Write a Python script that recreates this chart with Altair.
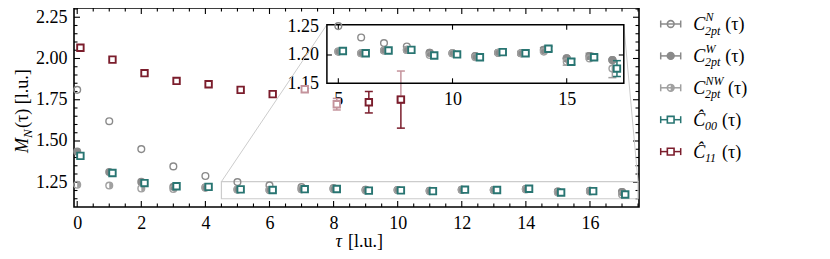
import altair as alt
import pandas as pd

# ---------------- data ----------------
tau = list(range(18))
c2pt_N = [1.810, 1.620, 1.451, 1.346, 1.288, 1.251, 1.231, 1.221, 1.215,
          1.204, 1.203, 1.198, 1.204, 1.203, 1.209, 1.194, 1.198, 1.191]
c2pt_W = [1.436, 1.312, 1.252, 1.222, 1.219, 1.206, 1.203, 1.208, 1.209,
          1.204, 1.203, 1.198, 1.204, 1.203, 1.209, 1.194, 1.198, 1.191]
c2pt_W_err = [0] * 14 + [0.004, 0, 0.005, 0]
c2pt_NW = [1.235, 1.230, 1.212, 1.209, 1.216, 1.206, 1.203, 1.208, 1.209,
           1.200, 1.203, 1.196, 1.204, 1.203, 1.206, 1.188, 1.194, 1.176]
c2pt_NW_err = [0] * 15 + [0.006, 0, 0.016]
c00 = [1.410, 1.306, 1.245, 1.226, 1.222, 1.207, 1.203, 1.208, 1.209,
       1.199, 1.201, 1.196, 1.205, 1.203, 1.211, 1.188, 1.196, 1.176]
c00_err = [0] * 14 + [0.004, 0.005, 0.004, 0.014]

c11_tau = [0, 1, 2, 3, 4, 5, 6, 9, 10]
c11 = [2.065, 1.993, 1.911, 1.864, 1.844, 1.810, 1.784, 1.735, 1.751]
c11_err_lo = [0, 0, 0, 0, 0, 0, 0, 0.065, 0.173]
c11_err_hi = [0, 0, 0, 0, 0, 0, 0, 0.065, 0]
c11_pale_tau = [7, 8, 10]
c11_pale = [1.814, 1.723, 1.751]
c11_pale_err_lo = [0, 0.035, 0]
c11_pale_err_hi = [0, 0.035, 0.173]

x_major = [0, 2, 4, 6, 8, 10, 12, 14, 16]
y_major = [1.25, 1.50, 1.75, 2.00, 2.25]
inset_x_ticks = [5, 10, 15]
inset_y_ticks = [1.15, 1.20, 1.25]

legend_main = ["C", "C", "C", "Ĉ", "Ĉ"]
legend_sup = ["N", "W", "NW", "", ""]
legend_sub = ["2pt", "2pt", "2pt", "00", "11"]

# ---------------- layout / style ----------------
W, H = 565, 199
X_DOM = [-0.10, 17.53]
Y_DOM = [1.10, 2.306]
IX_DOM = [4.5, 17.5]
IY_DOM = [1.15, 1.2535]
IL, IR, IT, IB = 252.9, 549.8, 16.7, 75.3   # inset box in plot pixels
FONT = "Liberation Serif"
GRAY = "#8a8a8a"
GRAY_NW = "#a0a0a0"
TEAL = "#287572"
RED = "#7b1d2c"
PALE = "#c4939c"
LIGHT = "#cccccc"
HALF = "M0,-1A1,1,0,0,1,0,1Z"
SHIFT_MAIN = 0.1
SHIFT_INSET = 0.2


def axis(values, fmt, orient, pad, offset=0):
    return alt.Axis(values=values, format=fmt, orient=orient, offset=offset,
                    ticks=False, tickSize=0, domain=False, grid=False,
                    labelFont=FONT, labelFontSize=18, labelColor="black",
                    labelPadding=pad, labelFlush=False, labelOverlap=False,
                    title=None)


main_xaxis = axis(x_major, "d", "bottom", 7)
main_yaxis = axis(y_major, ".2f", "left", 7)
inset_xaxis = axis(inset_x_ticks, "d", "bottom", 7.5, offset=-(H - IB))
inset_yaxis = axis(inset_y_ticks, ".2f", "left", 8.5, offset=-IL)


def MX(f="x"):
    return alt.X(f"{f}:Q", scale=alt.Scale(domain=X_DOM, nice=False, zero=False),
                 axis=main_xaxis, title=None)


def MY(f="y"):
    return alt.Y(f"{f}:Q", scale=alt.Scale(domain=Y_DOM, nice=False, zero=False),
                 axis=main_yaxis, title=None)


def IXe(f="x"):
    return alt.X(f"{f}:Q", scale=alt.Scale(domain=IX_DOM, range=[IL, IR], nice=False, zero=False),
                 axis=inset_xaxis, title=None)


def IYe(f="y"):
    return alt.Y(f"{f}:Q", scale=alt.Scale(domain=IY_DOM, range=[IB, IT], nice=False, zero=False),
                 axis=inset_yaxis, title=None)


def pts(t, v, shift=0.0, lo=None, hi=None):
    lo = lo if lo is not None else [0] * len(t)
    hi = hi if hi is not None else lo
    df = pd.DataFrame({"x": [a + shift for a in t], "y": v, "elo": lo, "ehi": hi})
    df["lo"] = df["y"] - df["elo"]
    df["hi"] = df["y"] + df["ehi"]
    return df


def errorbars(df, color, xe, ye):
    d = df[(df.elo > 0) | (df.ehi > 0)]
    if len(d) == 0:
        return []
    rule = alt.Chart(d).mark_rule(color=color, strokeWidth=1.5).encode(
        x=xe("x"), y=ye("lo"), y2=alt.Y2("hi:Q"))
    caps = pd.concat([
        d[d.elo > 0][["x", "lo"]].rename(columns={"lo": "c"}),
        d[d.ehi > 0][["x", "hi"]].rename(columns={"hi": "c"})])
    cap = alt.Chart(caps).mark_point(shape="M-1,0L1,0", filled=False, size=64,
                                     strokeWidth=1.5, color=color, opacity=1).encode(
        x=xe("x"), y=ye("c"))
    return [rule, cap]


def open_circles(df, color, xe, ye):
    return alt.Chart(df).mark_point(shape="circle", filled=False, size=45, strokeWidth=1.4,
                                    color=color, opacity=1).encode(x=xe("x"), y=ye("y"))


def filled_circles(df, color, xe, ye):
    return alt.Chart(df).mark_point(shape="circle", filled=True, size=45, fill=color,
                                    stroke=color, strokeWidth=1.4, opacity=1).encode(x=xe("x"), y=ye("y"))


def half_circles(df, color, xe, ye):
    return [open_circles(df, color, xe, ye),
            alt.Chart(df).mark_point(shape=HALF, filled=True, size=45, fill=color,
                                     strokeWidth=0, opacity=1).encode(x=xe("x"), y=ye("y"))]


def squares(df, color, xe, ye):
    return alt.Chart(df).mark_point(shape="square", filled=True, fill="white", stroke=color,
                                    strokeWidth=1.9, size=42, opacity=1).encode(x=xe("x"), y=ye("y"))


def tick_rules(xvals, yvals, xe, ye, left, right, top, bottom, ln):
    out = []
    if xvals:
        dx = pd.DataFrame({"x": xvals})
        out.append(alt.Chart(dx).mark_rule(color="black", strokeWidth=1.1).encode(
            x=xe("x"), y=alt.value(bottom), y2=alt.value(bottom - ln)))
        out.append(alt.Chart(dx).mark_rule(color="black", strokeWidth=1.1).encode(
            x=xe("x"), y=alt.value(top), y2=alt.value(top + ln)))
    if yvals:
        dy = pd.DataFrame({"y": yvals})
        out.append(alt.Chart(dy).mark_rule(color="black", strokeWidth=1.1).encode(
            y=ye("y"), x=alt.value(left), x2=alt.value(left + ln)))
        out.append(alt.Chart(dy).mark_rule(color="black", strokeWidth=1.1).encode(
            y=ye("y"), x=alt.value(right), x2=alt.value(right - ln)))
    return out


def px_to_main(px, py):
    x = X_DOM[0] + px / W * (X_DOM[1] - X_DOM[0])
    y = Y_DOM[1] - py / H * (Y_DOM[1] - Y_DOM[0])
    return x, y


def txt(s, x, y, size=18, italic=False, angle=0, dx=0, dy=0):
    return alt.Chart(pd.DataFrame({"t": [s]})).mark_text(
        font=FONT, fontSize=size, fontStyle="italic" if italic else "normal",
        align="left", baseline="alphabetic", angle=angle, dx=dx, dy=dy,
        color="black").encode(text="t:N", x=alt.value(x), y=alt.value(y))


# ---------------- main panel ----------------
x_minor = [k * 0.5 for k in range(0, 36) if k % 4]
y_minor = [round(k * 0.05, 2) for k in range(23, 47) if k % 5]

main_layers = []
main_layers += tick_rules(x_major, y_major, MX, MY, 0, W, 0, H, 6)
main_layers += tick_rules(x_minor, y_minor, MX, MY, 0, W, 0, H, 3.5)

zoom_box = pd.DataFrame({"x": [IX_DOM[0]], "x2": [IX_DOM[1]], "y": [IY_DOM[0]], "y2": [IY_DOM[1]]})
main_layers.append(alt.Chart(zoom_box).mark_rect(filled=False, color=LIGHT, strokeWidth=1.2).encode(
    x=MX("x"), x2=alt.X2("x2:Q"), y=MY("y"), y2=alt.Y2("y2:Q")))

cl = px_to_main(IL, IT)
cr = px_to_main(IR, IT)
conn = pd.DataFrame({"x": [IX_DOM[0], IX_DOM[1]], "y": [IY_DOM[1], IY_DOM[1]],
                     "x2": [cl[0], cr[0]], "y2": [cl[1], cr[1]]})
main_layers.append(alt.Chart(conn).mark_rule(color=LIGHT, strokeWidth=1).encode(
    x=MX("x"), y=MY("y"), x2=alt.X2("x2:Q"), y2=alt.Y2("y2:Q")))

dN = pts(tau, c2pt_N)
dW = pts(tau, c2pt_W, lo=c2pt_W_err)
dNW = pts(tau, c2pt_NW, lo=c2pt_NW_err)
d00m = pts(tau, c00, SHIFT_MAIN, lo=c00_err)
d11 = pts(c11_tau, c11, SHIFT_MAIN, lo=c11_err_lo, hi=c11_err_hi)
d11p = pts(c11_pale_tau, c11_pale, SHIFT_MAIN, lo=c11_pale_err_lo, hi=c11_pale_err_hi)

main_layers.append(open_circles(dN, GRAY, MX, MY))
main_layers.append(filled_circles(dW, GRAY, MX, MY))
main_layers += half_circles(dNW, GRAY_NW, MX, MY)
main_layers.append(squares(d00m, TEAL, MX, MY))
main_layers += errorbars(d11p, PALE, MX, MY)
main_layers.append(squares(d11p, PALE, MX, MY))
main_layers += errorbars(d11, RED, MX, MY)
main_layers.append(squares(d11, RED, MX, MY))
main = alt.layer(*main_layers)

# ---------------- inset ----------------
def inset_filter(df):
    return df[(df.x >= IX_DOM[0]) & (df.x <= IX_DOM[1]) & (df.y <= IY_DOM[1]) & (df.y >= IY_DOM[0])]

inset_layers = []
frame = pd.DataFrame({"x": [IX_DOM[0]], "x2": [IX_DOM[1]], "y": [IY_DOM[0]], "y2": [IY_DOM[1]]})
inset_layers.append(alt.Chart(frame).mark_rect(filled=False, color="black", strokeWidth=1.5).encode(
    x=IXe("x"), x2=alt.X2("x2:Q"), y=IYe("y"), y2=alt.Y2("y2:Q")))
inset_layers += tick_rules(inset_x_ticks, [1.20], IXe, IYe, IL, IR, IT, IB, 5)

iN = inset_filter(dN)
iW = inset_filter(dW)
iNW = inset_filter(dNW)
i00 = inset_filter(pts(tau, c00, SHIFT_INSET, lo=c00_err))
inset_layers += errorbars(iW, GRAY, IXe, IYe)
inset_layers += errorbars(iNW, GRAY_NW, IXe, IYe)
inset_layers.append(open_circles(iN, GRAY, IXe, IYe))
inset_layers.append(filled_circles(iW, GRAY, IXe, IYe))
inset_layers += half_circles(iNW, GRAY_NW, IXe, IYe)
inset_layers += errorbars(i00, TEAL, IXe, IYe)
inset_layers.append(squares(i00, TEAL, IXe, IYe))
inset = alt.layer(*inset_layers)

# ---------------- legend ----------------
LEG_Y0, LEG_DY = 16.0, 31.9
LX1, LX2, LXC, LTX = 586.7, 606.7, 596.7, 619.3
leg_col = [GRAY, GRAY, GRAY_NW, TEAL, RED]
leg_shape = ["circle", "circle", "circle", "square", "square"]
leg_fill = ["transparent", GRAY, "transparent", "white", "white"]
leg = pd.DataFrame({"ly": [LEG_Y0 + LEG_DY * i for i in range(5)],
                    "lx1": LX1, "lx2": LX2, "lxc": LXC,
                    "col": leg_col, "shape": leg_shape, "fillc": leg_fill})
PX = lambda f: alt.X(f"{f}:Q", scale=None, axis=None)
PY = lambda f: alt.Y(f"{f}:Q", scale=None, axis=None)
legend_layers = [
    alt.Chart(leg).mark_rule(strokeWidth=1.5).encode(
        x=PX("lx1"), x2=alt.X2("lx2:Q"), y=PY("ly"), color=alt.Color("col:N", scale=None)),
]
leg_caps = pd.concat([leg[["lx1", "ly", "col"]].rename(columns={"lx1": "cx"}),
                      leg[["lx2", "ly", "col"]].rename(columns={"lx2": "cx"})])
legend_layers.append(alt.Chart(leg_caps).mark_point(shape="M0,-1L0,1", filled=False, size=49,
                                                    strokeWidth=1.5, opacity=1).encode(
    x=PX("cx"), y=PY("ly"), color=alt.Color("col:N", scale=None)))
legend_layers.append(alt.Chart(leg).mark_point(filled=True, size=45, strokeWidth=1.6, opacity=1).encode(
    x=PX("lxc"), y=PY("ly"), shape=alt.Shape("shape:N", scale=None),
    fill=alt.Fill("fillc:N", scale=None), stroke=alt.Stroke("col:N", scale=None)))
legend_layers.append(alt.Chart(leg.iloc[[2]]).mark_point(shape=HALF, filled=True, size=45,
                                                          fill=GRAY_NW, strokeWidth=0, opacity=1).encode(
    x=PX("lxc"), y=PY("ly")))

w13 = {"N": 0.667, "W": 0.833, "2": 0.5, "p": 0.5, "t": 0.278, "0": 0.5, "1": 0.5}
for i in range(5):
    ly = LEG_Y0 + LEG_DY * i
    legend_layers.append(txt(legend_main[i], LTX, ly + 6, 18, True))
    if legend_sup[i]:
        legend_layers.append(txt(legend_sup[i], LTX + 12.2, ly - 3, 12, True))
    legend_layers.append(txt(legend_sub[i], LTX + 11.7, ly + 10.5, 12, True))
    wsup = sum(w13[c] for c in legend_sup[i]) * 12
    wsub = sum(w13[c] for c in legend_sub[i]) * 12
    legend_layers.append(txt("(τ)", LTX + 11.7 + max(wsup, wsub) + 5, ly + 6, 18, False))

# ---------------- axis titles ----------------
title_layers = [
    txt("τ", 261.5, 239, 18, True),
    txt("[l.u.]", 274.1, 239, 18, False),
    txt("M", -46, 145, 18, True, angle=270),
    txt("N", -46, 145, 13, True, angle=270, dx=15, dy=4),
    txt("(τ) [l.u.]", -46, 145, 18, False, angle=270, dx=25),
]

chart = alt.layer(main, inset, *legend_layers, *title_layers).resolve_scale(
    x="independent", y="independent"
).properties(
    width=W, height=H,
    autosize=alt.AutoSizeParams(type="none"),
    padding={"left": 66, "top": 0, "right": 170, "bottom": 44},
).configure_view(stroke="black", strokeWidth=1.6)

chart.save("out.html", embed_options={"renderer": "svg", "actions": False})
